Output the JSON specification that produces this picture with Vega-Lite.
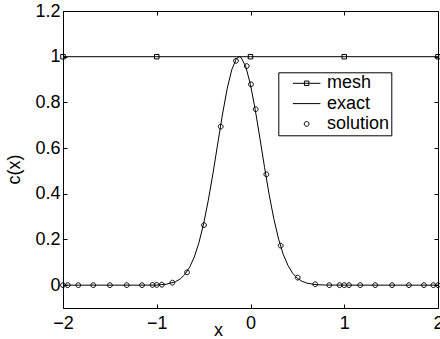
{
  "$schema": "https://vega.github.io/schema/vega-lite/v6.json",
  "width": 375,
  "height": 297,
  "autosize": {"type": "none"},
  "padding": {"left": 63, "top": 11, "right": 2, "bottom": 31},
  "background": "white",
  "config": {
    "view": {"stroke": null},
    "font": "Liberation Sans",
    "axis": {
      "domainColor": "black",
      "domainWidth": 1,
      "tickColor": "black",
      "tickWidth": 1,
      "tickSize": -4,
      "grid": false,
      "labelFont": "Liberation Sans",
      "labelFontSize": 18,
      "labelColor": "black",
      "labelFlush": false,
      "labelOverlap": false,
      "labelBound": false,
      "titleFont": "Liberation Sans",
      "titleFontSize": 18,
      "titleFontWeight": "normal",
      "titleColor": "black"
    },
    "axisX": {"labelPadding": 10},
    "axisY": {"labelPadding": 7}
  },
  "datasets": {
    "exact": [
      {"x": -2, "c": 0}, {"x": -1.2, "c": 0}, {"x": -1.0, "c": 0.0003},
      {"x": -0.9, "c": 0.004}, {"x": -0.8, "c": 0.015}, {"x": -0.75, "c": 0.027},
      {"x": -0.7, "c": 0.047}, {"x": -0.65, "c": 0.078}, {"x": -0.6, "c": 0.123},
      {"x": -0.55, "c": 0.186}, {"x": -0.5, "c": 0.269}, {"x": -0.45, "c": 0.372},
      {"x": -0.4, "c": 0.49}, {"x": -0.35, "c": 0.618}, {"x": -0.3, "c": 0.745},
      {"x": -0.25, "c": 0.858}, {"x": -0.2, "c": 0.943}, {"x": -0.15, "c": 0.992},
      {"x": -0.12, "c": 1.0}, {"x": -0.1, "c": 0.996}, {"x": -0.05, "c": 0.956},
      {"x": 0, "c": 0.877}, {"x": 0.05, "c": 0.769}, {"x": 0.1, "c": 0.644},
      {"x": 0.15, "c": 0.515}, {"x": 0.2, "c": 0.394}, {"x": 0.25, "c": 0.288},
      {"x": 0.3, "c": 0.201}, {"x": 0.35, "c": 0.134}, {"x": 0.4, "c": 0.086},
      {"x": 0.45, "c": 0.052}, {"x": 0.5, "c": 0.03}, {"x": 0.55, "c": 0.017},
      {"x": 0.6, "c": 0.009}, {"x": 0.7, "c": 0.002}, {"x": 0.8, "c": 0.0005},
      {"x": 1.0, "c": 0}, {"x": 2.0, "c": 0}
    ],
    "mesh": [
      {"x": -2, "c": 1}, {"x": -1, "c": 1}, {"x": 0, "c": 1}, {"x": 1, "c": 1}, {"x": 2, "c": 1}
    ],
    "solution": [
      {"x": -2, "c": 0, "series": "solution"}, {"x": -1.95, "c": 0, "series": "solution"},
      {"x": -1.837, "c": 0, "series": "solution"}, {"x": -1.677, "c": 0, "series": "solution"},
      {"x": -1.5, "c": 0, "series": "solution"}, {"x": -1.32, "c": 0, "series": "solution"},
      {"x": -1.157, "c": 0, "series": "solution"}, {"x": -1.045, "c": 0.001, "series": "solution"},
      {"x": -1.0, "c": 0.001, "series": "solution"}, {"x": -0.946, "c": 0.002, "series": "solution"},
      {"x": -0.833, "c": 0.011, "series": "solution"}, {"x": -0.677, "c": 0.056, "series": "solution"},
      {"x": -0.496, "c": 0.263, "series": "solution"}, {"x": -0.318, "c": 0.694, "series": "solution"},
      {"x": -0.155, "c": 0.982, "series": "solution"}, {"x": -0.04, "c": 0.959, "series": "solution"},
      {"x": 0.005, "c": 0.879, "series": "solution"}, {"x": 0.055, "c": 0.77, "series": "solution"},
      {"x": 0.169, "c": 0.485, "series": "solution"}, {"x": 0.322, "c": 0.173, "series": "solution"},
      {"x": 0.503, "c": 0.033, "series": "solution"}, {"x": 0.69, "c": 0.004, "series": "solution"},
      {"x": 0.84, "c": 0, "series": "solution"}, {"x": 0.95, "c": 0, "series": "solution"},
      {"x": 1.0, "c": 0, "series": "solution"}, {"x": 1.05, "c": 0, "series": "solution"},
      {"x": 1.17, "c": 0, "series": "solution"}, {"x": 1.33, "c": 0, "series": "solution"},
      {"x": 1.51, "c": 0, "series": "solution"}, {"x": 1.69, "c": 0, "series": "solution"},
      {"x": 1.85, "c": 0, "series": "solution"}, {"x": 1.95, "c": 0, "series": "solution"},
      {"x": 2.0, "c": 0, "series": "solution"}
    ]
  },
  "layer": [
    {
      "data": {"name": "exact"},
      "mark": {"type": "line", "color": "black", "strokeWidth": 1},
      "encoding": {
        "x": {
          "field": "x", "type": "quantitative",
          "scale": {"domain": [-2, 2], "nice": false, "zero": false},
          "axis": {
            "orient": "bottom", "values": [-2, -1, 0, 1, 2], "format": "~g",
            "title": "x", "titleX": 155, "titleY": 27,
            "titleBaseline": "alphabetic", "titleAlign": "center"
          }
        },
        "y": {
          "field": "c", "type": "quantitative",
          "scale": {"domain": [-0.1, 1.2], "nice": false, "zero": false},
          "axis": {
            "orient": "left", "values": [0, 0.2, 0.4, 0.6, 0.8, 1, 1.2], "format": "~g",
            "title": "c(x)", "titleX": -44, "titleY": 158, "titleAngle": -90,
            "titleBaseline": "alphabetic", "titleAlign": "center"
          }
        }
      }
    },
    {
      "data": {"name": "mesh"},
      "mark": {"type": "line", "color": "black", "strokeWidth": 1},
      "encoding": {
        "x": {
          "field": "x", "type": "quantitative",
          "scale": {"domain": [-2, 2], "nice": false, "zero": false},
          "axis": {"orient": "top", "values": [-2, -1, 0, 1, 2], "labels": false, "title": null}
        },
        "y": {
          "field": "c", "type": "quantitative",
          "scale": {"domain": [-0.1, 1.2], "nice": false, "zero": false},
          "axis": {"orient": "right", "values": [0, 0.2, 0.4, 0.6, 0.8, 1, 1.2], "labels": false, "title": null}
        }
      }
    },
    {
      "data": {"name": "mesh"},
      "mark": {"type": "point", "shape": "square", "size": 20, "filled": false, "color": "black", "strokeWidth": 1, "opacity": 1},
      "encoding": {
        "x": {"field": "x", "type": "quantitative", "scale": {"domain": [-2, 2], "nice": false, "zero": false}, "axis": null},
        "y": {"field": "c", "type": "quantitative", "scale": {"domain": [-0.1, 1.2], "nice": false, "zero": false}, "axis": null}
      }
    },
    {
      "data": {"name": "solution"},
      "mark": {"type": "point", "size": 256, "filled": false, "color": "black", "strokeWidth": 1, "opacity": 1},
      "encoding": {
        "x": {"field": "x", "type": "quantitative", "scale": {"domain": [-2, 2], "nice": false, "zero": false}, "axis": null},
        "y": {"field": "c", "type": "quantitative", "scale": {"domain": [-0.1, 1.2], "nice": false, "zero": false}, "axis": null},
        "shape": {
          "field": "series", "type": "nominal",
          "scale": {
            "domain": ["mesh", "exact", "solution"],
            "range": [
              "M-1.72,0H1.72M-0.28,-0.28H0.28V0.28H-0.28Z",
              "M-1.72,0H1.72",
              "M0.3,0A0.3,0.3,0,1,1,-0.3,0A0.3,0.3,0,1,1,0.3,0Z"
            ]
          },
          "legend": {
            "title": null,
            "orient": "none",
            "legendX": 215.3,
            "legendY": 61.3,
            "strokeColor": "black",
            "fillColor": "white",
            "padding": 2,
            "symbolSize": 256,
            "symbolStrokeWidth": 1,
            "symbolStrokeColor": "black",
            "symbolFillColor": "transparent",
            "symbolOpacity": 1,
            "symbolOffset": 17.35,
            "labelOffset": 11.3,
            "labelFont": "Liberation Sans",
            "labelFontSize": 18,
            "labelColor": "black",
            "rowPadding": 2.3
          }
        }
      }
    }
  ],
  "resolve": {"axis": {"x": "independent", "y": "independent"}}
}
